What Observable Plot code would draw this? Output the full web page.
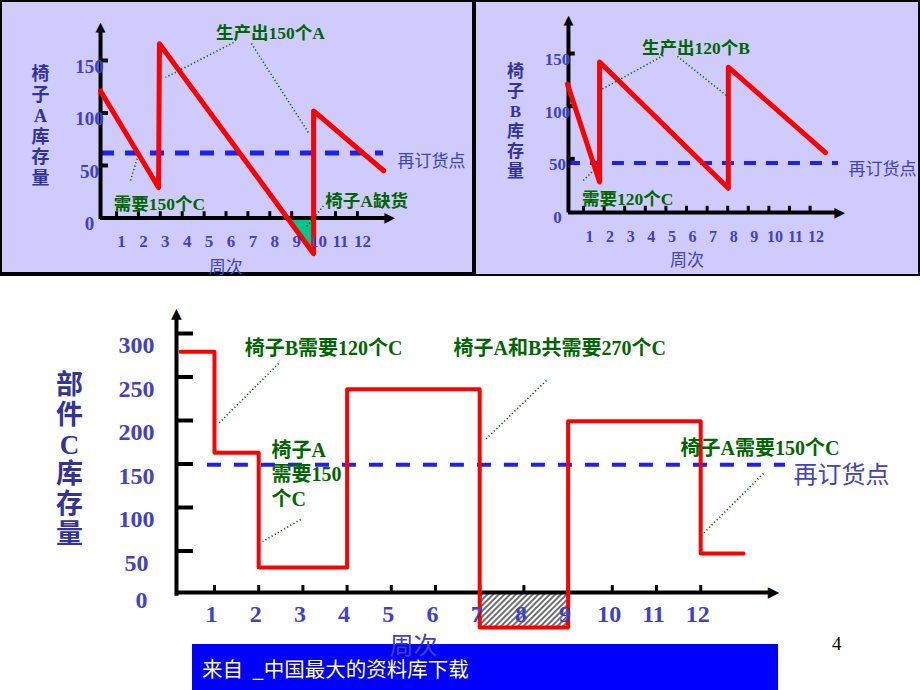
<!DOCTYPE html>
<html><head><meta charset="utf-8">
<script src="https://cdn.jsdelivr.net/npm/d3@7"></script>
<script src="https://cdn.jsdelivr.net/npm/@observablehq/plot@0.6"></script>
<style>
html,body{margin:0;padding:0;background:#fff;}
#page{position:relative;width:920px;height:690px;overflow:hidden;background:#fff;}
#page > *{position:absolute;}
.frame{left:0;top:0;width:920px;height:276px;background:#000;}
.panelA{left:2px;top:2px;width:470px;height:270px;background:#cfccfd;}
.panelB{left:476px;top:2px;width:442px;height:272px;background:#cfccfd;}
.banner{left:192px;top:644px;width:586px;height:46px;background:#0000ff;color:#ffffa0;font:20.5px "Noto Sans CJK SC",sans-serif;line-height:48px;padding-left:10px;box-sizing:border-box;white-space:pre;}
.pagenum{left:832px;top:633px;font:19px "Liberation Serif",serif;color:#000;}
</style></head>
<body><div id="page">
<div class="frame"></div><div class="panelA"></div><div class="panelB"></div>
<div class="banner">来自  _中国最大的资料库下载</div>
<div class="pagenum">4</div>
</div>
<script>
// ---------- data ----------
const weeks = [1,2,3,4,5,6,7,8,9,10,11,12];
const stockTicksAB = [50, 100, 150];
const stockLabelsAB = [0, 50, 100, 150];
const stockTicksC = [50, 100, 150, 200, 250, 300];
const stockLabelsC = [50, 100, 150, 200, 250, 300];

const chairAWeek = [0.27, 2.92, 2.96, 10, 10, 13.2];
const chairAStock = [121, 29, 166, -34, 102, 45];
const chairAShortWeek = [8.85, 10];
const chairAShortStock = [0, -34];
const chairAReorder = 62;

const chairBWeek = [0.22, 1.78, 1.78, 8.03, 8.03, 12.75];
const chairBStock = [121, 28, 142, 22, 137, 56];
const chairBReorder = 46;

const partCWeek = [0.23, 1, 2, 4, 7, 9, 12, 12.97];
const partCStock = [279, 163, 31, 236, -38, 199, 47, 47];
const partCShortWeek = [7, 9];
const partCShortStock = [0, -38];
const partCReorder = 149;

const notesA = [
  {text: "生产出150个A", w: 8.03, v: 176.7, anchor: "middle"},
  {text: "需要150个C", w: 2.96, v: 13.8, anchor: "middle"},
  {text: "椅子A缺货", w: 12.42, v: 16.7, anchor: "middle"}
];
const leadersA = [
  {w1: 6.34, v1: 167.1, w2: 3.24, v2: 133.8},
  {w1: 7.16, v1: 166.2, w2: 9.76, v2: 81.4},
  {w1: 1.64, v1: 35.7, w2: 1.96, v2: 57.6},
  {w1: 9.69, v1: -8.1, w2: 10.5, v2: 12.9}
];
const notesB = [
  {text: "生产出120个B", w: 6.46, v: 155.7, anchor: "middle"},
  {text: "需要120个C", w: 3.14, v: 12.3, anchor: "middle"}
];
const leadersB = [
  {w1: 4.88, v1: 148.1, w2: 1.87, v2: 115.8},
  {w1: 5.56, v1: 147.2, w2: 7.94, v2: 110.1},
  {w1: 0.99, v1: 29.4, w2: 1.49, v2: 38.9}
];
const notesC = [
  {text: "椅子B需要120个C", w: 3.47, v: 283.9, anchor: "middle"},
  {text: "椅子A和B共需要270个C", w: 8.81, v: 283.9, anchor: "middle"},
  {text: "椅子A\n需要150\n个C", w: 2.29, v: 139.1, anchor: "start"},
  {text: "椅子A需要150个C", w: 13.34, v: 169, anchor: "middle"}
];
const leadersC = [
  {w1: 2.45, v1: 265.5, w2: 1.07, v2: 195.4},
  {w1: 8.51, v1: 246.0, w2: 7.13, v2: 178.2},
  {w1: 2.95, v1: 86.2, w2: 2.09, v2: 60.9},
  {w1: 13.42, v1: 139.1, w2: 12.06, v2: 70.1}
];
const reorderText = "再订货点";
const weekTitle = "周次";
const yTitleA = "椅子A库存量";
const yTitleB = "椅子B库存量";
const yTitleC = "部件C库存量";

// ---------- styles ----------
const serif = "'Liberation Serif','Noto Sans CJK SC',serif";
const sans = "'Noto Sans CJK SC',sans-serif";
const RED = "#ff0000", DASH = "#2020ee", LABEL = "#4040c8", TITLE = "#333399", NOTE = "#006600";
const zip = (ws, vs) => ws.map((w, i) => ({w, v: vs[i]}));
const vert = s => Array.from(s).join("\n");

function place(svg) {
  svg.style.position = "absolute"; svg.style.left = "0px"; svg.style.top = "0px";
  document.getElementById("page").appendChild(svg);
  return svg;
}

function notesMarks(notes, leaders, fs, lh) {
  return [
    Plot.link(leaders, {x1: "w1", y1: "v1", x2: "w2", y2: "v2", stroke: NOTE, strokeWidth: 1.6, strokeDasharray: "1.2,2.4"}),
    ...notes.map(n => Plot.text([n], {x: "w", y: "v", text: "text", textAnchor: n.anchor, lineHeight: lh,
      fill: NOTE, fontSize: fs, fontWeight: "bold", fontFamily: serif}))
  ];
}

// ---------- chart A ----------
const chartA = Plot.plot({
  width: 920, height: 280,
  x: {domain: [0, 14], range: [94.1, 400.7], axis: null},
  y: {domain: [0, 150], range: [217.5, 60], axis: null},
  style: {background: "transparent", overflow: "visible"},
  marks: [
    Plot.areaY(zip(chairAShortWeek, chairAShortStock), {x: "w", y1: 0, y2: "v", fill: "#00c890"}),
    Plot.ruleY([0], {x1: chairAShortWeek[0], x2: chairAShortWeek[1], stroke: RED, strokeWidth: 4}),
    Plot.ruleY([chairAReorder], {x1: 0.27, x2: 13.19, stroke: DASH, strokeWidth: 5, strokeDasharray: "14,11"}),
    Plot.ruleY([0], {x1: 0.27, x2: 13.3, stroke: "#000", strokeWidth: 4}),
    Plot.ruleX([0.27], {y1: -1.5, y2: 180, stroke: "#000", strokeWidth: 4}),
    Plot.ruleX(weeks, {x: d => d, y1: 0, y2: 6, stroke: "#000", strokeWidth: 3}),
    Plot.ruleY(stockTicksAB, {y: d => d, x1: 0.27, x2: 0.635, stroke: "#000", strokeWidth: 4}),
    Plot.text(["▶"], {x: 13.47, y: 0, text: d => d, fontSize: 14, fontFamily: "DejaVu Sans", fill: "#000"}),
    Plot.text(["▲"], {x: 0.27, y: 182, text: d => d, fontSize: 13, fontFamily: "DejaVu Sans", fill: "#000"}),
    Plot.line(zip(chairAWeek, chairAStock), {x: "w", y: "v", stroke: RED, strokeWidth: 5}),
    Plot.text(weeks, {x: d => d, y: 0, text: d => String(d), dx: 5, dy: 24, fill: LABEL, fontSize: 17, fontWeight: "bold", fontFamily: serif}),
    Plot.text(stockLabelsAB, {x: 0.27, y: d => d, text: d => String(d), dx: -11, dy: 6, fill: LABEL, fontSize: 19, fontWeight: "bold", fontFamily: serif}),
    Plot.text([yTitleA], {x: -2.47, y: 88, text: vert, lineHeight: 1.15, fill: TITLE, fontSize: 18, fontWeight: "bold", fontFamily: serif}),
    Plot.text([weekTitle], {x: 5.99, y: -47, text: d => d, fill: LABEL, fontSize: 17, fontFamily: sans}),
    Plot.text([reorderText], {x: 13.83, y: 53.8, text: d => d, textAnchor: "start", fill: LABEL, fontSize: 17, fontFamily: sans}),
    ...notesMarks(notesA, leadersA, 17.5, 1.2)
  ]
});
place(chartA);

// ---------- chart B ----------
const chartB = Plot.plot({
  width: 920, height: 280,
  x: {domain: [0, 14], range: [562.4, 850.8], axis: null},
  y: {domain: [0, 150], range: [211, 53], axis: null},
  style: {background: "transparent", overflow: "visible"},
  marks: [
    Plot.ruleY([chairBReorder], {x1: 0.27, x2: 13.38, stroke: DASH, strokeWidth: 4, strokeDasharray: "12,10"}),
    Plot.ruleY([0], {x1: 0.27, x2: 13.23, dy: 1, stroke: "#000", strokeWidth: 4}),
    Plot.ruleX([0.27], {y1: -1.5, y2: 179, stroke: "#000", strokeWidth: 4}),
    Plot.ruleX(weeks, {x: d => d, y1: 0, y2: 5, stroke: "#000", strokeWidth: 3}),
    Plot.ruleY(stockTicksAB, {y: d => d, x1: 0.27, x2: 0.6, stroke: "#000", strokeWidth: 4}),
    Plot.text(["▶"], {x: 13.43, y: 0, dy: 1, text: d => d, fontSize: 14, fontFamily: "DejaVu Sans", fill: "#000"}),
    Plot.text(["▲"], {x: 0.27, y: 182, text: d => d, fontSize: 13, fontFamily: "DejaVu Sans", fill: "#000"}),
    Plot.line(zip(chairBWeek, chairBStock), {x: "w", y: "v", stroke: RED, strokeWidth: 5}),
    Plot.text(weeks, {x: d => d, y: 0, text: d => String(d), dx: 6, dy: 25, fill: LABEL, fontSize: 16, fontWeight: "bold", fontFamily: serif}),
    Plot.text(stockLabelsAB, {x: 0.27, y: d => d, text: d => String(d), dx: -11, dy: 6, fill: LABEL, fontSize: 17, fontWeight: "bold", fontFamily: serif}),
    Plot.text([yTitleB], {x: -2.3, y: 86.4, text: vert, lineHeight: 1.18, fill: TITLE, fontSize: 17, fontWeight: "bold", fontFamily: serif}),
    Plot.text([weekTitle], {x: 6.03, y: -46.8, text: d => d, fill: LABEL, fontSize: 17, fontFamily: sans}),
    Plot.text([reorderText], {x: 13.86, y: 39.9, text: d => d, textAnchor: "start", fill: LABEL, fontSize: 17, fontFamily: sans}),
    ...notesMarks(notesB, leadersB, 17.5, 1.2)
  ]
});
place(chartB);

// ---------- chart C ----------
const chartC = Plot.plot({
  width: 920, height: 690,
  x: {domain: [0, 14], range: [169.8, 788.6], axis: null},
  y: {domain: [0, 300], range: [594, 333], axis: null},
  style: {background: "transparent", overflow: "visible"},
  marks: [
    Plot.rect(partCShortWeek.slice(0, 1), {x1: partCShortWeek[0], x2: partCShortWeek[1], y1: partCShortStock[0], y2: partCShortStock[1], fill: "url(#hatch)"}),
    Plot.ruleY([partCReorder], {x1: 0.84, x2: 13.92, stroke: DASH, strokeWidth: 4, strokeDasharray: "14,13"}),
    Plot.ruleY([0], {x1: 0.14, x2: 13.55, dy: -2, stroke: "#000", strokeWidth: 4}),
    Plot.ruleX([0.14], {y1: -2, y2: 318, stroke: "#000", strokeWidth: 4}),
    Plot.ruleX(weeks, {x: d => d, y1: 2, y2: 10.3, stroke: "#000", strokeWidth: 3}),
    Plot.ruleY(stockTicksC, {y: d => d, x1: 0.14, x2: 0.525, stroke: "#000", strokeWidth: 4}),
    Plot.text(["▶"], {x: 13.65, y: 0, dy: -2, text: d => d, fontSize: 15, fontFamily: "DejaVu Sans", fill: "#000"}),
    Plot.text(["▲"], {x: 0.14, y: 323, text: d => d, fontSize: 14, fontFamily: "DejaVu Sans", fill: "#000"}),
    Plot.line(zip(partCWeek, partCStock), {x: "w", y: "v", curve: "step-after", stroke: RED, strokeWidth: 4}),
    Plot.text(weeks, {x: d => d, y: 0, text: d => String(d), dx: -3, dy: 20, fill: LABEL, fontSize: 24, fontWeight: "bold", fontFamily: serif}),
    Plot.text(stockLabelsC, {x: 0.14, y: d => d, text: d => String(d), dx: -40, dy: 12, fill: LABEL, fontSize: 24, fontWeight: "bold", fontFamily: serif}),
    Plot.text([0], {x: 0.14, y: d => d, text: d => String(d), dx: -35, dy: 6, fill: LABEL, fontSize: 24, fontWeight: "bold", fontFamily: serif}),
    Plot.text([yTitleC], {x: -2.28, y: 155.7, text: vert, lineHeight: 1.1, fill: TITLE, fontSize: 27, fontWeight: "bold", fontFamily: serif}),
    Plot.text([weekTitle], {x: 5.5, y: -59.5, text: d => d, fill: LABEL, fontSize: 24, fontFamily: sans}),
    Plot.text([reorderText], {x: 14.1, y: 136.8, text: d => d, textAnchor: "start", fill: LABEL, fontSize: 24, fontFamily: sans}),
    ...notesMarks(notesC, leadersC, 20, 1.22)
  ]
});
const defs = d3.select(chartC).insert("defs", ":first-child");
const pat = defs.append("pattern").attr("id", "hatch").attr("patternUnits", "userSpaceOnUse")
  .attr("width", 4).attr("height", 4).attr("patternTransform", "rotate(45)");
pat.append("rect").attr("width", 4).attr("height", 4).attr("fill", "#fff");
pat.append("line").attr("x1", 1).attr("y1", 0).attr("x2", 1).attr("y2", 4).attr("stroke", "#222").attr("stroke-width", 1.3);
place(chartC);
</script>
</body></html>
